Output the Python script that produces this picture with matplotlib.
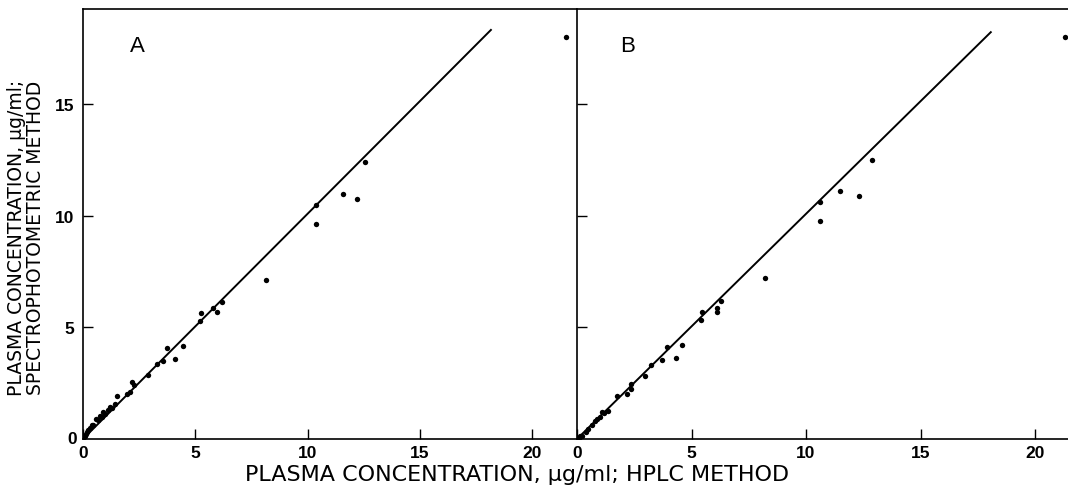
import matplotlib
matplotlib.use("Agg")
import matplotlib.pyplot as plt

# ---- data ----
a_x = [0.05, 0.10, 0.13, 0.18, 0.24, 0.30, 0.39, 0.45, 0.58, 0.66, 0.76, 0.85, 0.90, 1.00, 1.10, 1.20,
       1.30, 1.43, 1.50, 1.94, 2.09, 2.20, 2.27, 2.90, 3.28, 3.55, 3.76, 4.10, 4.44, 5.20, 5.24,
       5.80, 5.96, 6.18, 8.13, 10.36, 10.36, 11.60, 12.20, 12.56, 21.50]
a_y = [0.08, 0.15, 0.22, 0.30, 0.42, 0.50, 0.63, 0.62, 0.90, 0.85, 1.04, 1.00, 1.22, 1.10, 1.30, 1.42,
       1.40, 1.57, 1.91, 2.00, 2.09, 2.54, 2.42, 2.87, 3.36, 3.50, 4.07, 3.58, 4.18, 5.30, 5.64,
       5.85, 5.70, 6.15, 7.10, 10.50, 9.64, 10.97, 10.75, 12.40, 18.00]

b_x = [0.08, 0.15, 0.23, 0.38, 0.50, 0.67, 0.80, 0.89, 1.00, 1.08, 1.20, 1.37, 1.76, 2.20, 2.34,
       2.34, 2.97, 3.22, 3.73, 3.94, 4.31, 4.57, 5.40, 5.44, 6.13, 6.13, 6.27, 8.20, 10.61, 10.61,
       11.48, 12.31, 12.90, 21.30]
b_y = [0.06, 0.12, 0.15, 0.33, 0.45, 0.63, 0.80, 0.90, 1.00, 1.19, 1.15, 1.27, 1.91, 2.01, 2.46,
       2.24, 2.84, 3.31, 3.54, 4.13, 3.61, 4.21, 5.34, 5.67, 5.85, 5.70, 6.19, 7.21, 10.60, 9.75,
       11.09, 10.88, 12.50, 18.00]

a_line_x = [0.0, 18.2]
a_line_y = [0.0, 18.35]
b_line_x = [0.0, 18.1]
b_line_y = [0.0, 18.25]

x_ticks = [0, 5, 10, 15, 20]
y_ticks = [0, 5, 10, 15]
panel_labels = ["A", "B"]
y_label = "PLASMA CONCENTRATION, \u00b5g/ml;\nSPECTROPHOTOMETRIC METHOD"
x_label = "PLASMA CONCENTRATION, \u00b5g/ml; HPLC METHOD"

plt.rcParams['font.family'] = ['Liberation Sans', 'DejaVu Sans']

W, H = 1068, 489
fig = plt.figure(figsize=(W / 100, H / 100), dpi=100)

bottom = 1 - 440 / H
height = 430 / H
axA = fig.add_axes([83 / W, bottom, (576 - 83) / W, height])
axB = fig.add_axes([577 / W, bottom, (W - 577) / W, height])

for ax, xs, ys, lx, ly, lab, xmax, lx_pos in [
    (axA, a_x, a_y, a_line_x, a_line_y, panel_labels[0], (576 - 83) / 22.45, 0.095),
    (axB, b_x, b_y, b_line_x, b_line_y, panel_labels[1], (W - 577) / 22.9, 0.088),
]:
    ax.plot(lx, ly, color="black", lw=1.4, solid_capstyle="butt")
    ax.scatter(xs, ys, s=15, color="black", zorder=3, linewidths=0)
    ax.set_xlim(0, xmax)
    ax.set_ylim(0, 430 / 22.33)
    ax.set_xticks(x_ticks)
    ax.set_yticks([t for t in y_ticks if t > 0])
    ax.tick_params(axis="both", direction="in", length=7, width=1.0, colors="black")
    ax.tick_params(axis="x", labelsize=12.5, pad=4)
    ax.tick_params(axis="y", labelsize=12.5, pad=6)
    for side in ["left", "bottom", "top"]:
        ax.spines[side].set_linewidth(1.2)
        ax.spines[side].set_color("black")
    ax.spines["right"].set_visible(False)
    ax.text(lx_pos, 0.915, lab, transform=ax.transAxes, fontsize=16,
            ha="left", va="center", color="black")

for lbl in axA.get_xticklabels() + axB.get_xticklabels() + axA.get_yticklabels():
    lbl.set_fontweight("bold")

axB.set_yticklabels([])
# y "0" label for panel A
axA.text(-0.012, 0.0, "0", transform=axA.transAxes, ha="right", va="center",
         fontsize=12.5, fontweight="bold")

fig.text(26 / W, 1 - 238 / H, y_label,
         rotation=90, ha="center", va="center", fontsize=13.5, linespacing=0.95,
         family=['DejaVu Sans'])
fig.text(517 / W, 1 - 475 / H, x_label,
         ha="center", va="center", fontsize=16, family=['DejaVu Sans'])

fig.savefig("out.png", dpi=100, facecolor="white")
